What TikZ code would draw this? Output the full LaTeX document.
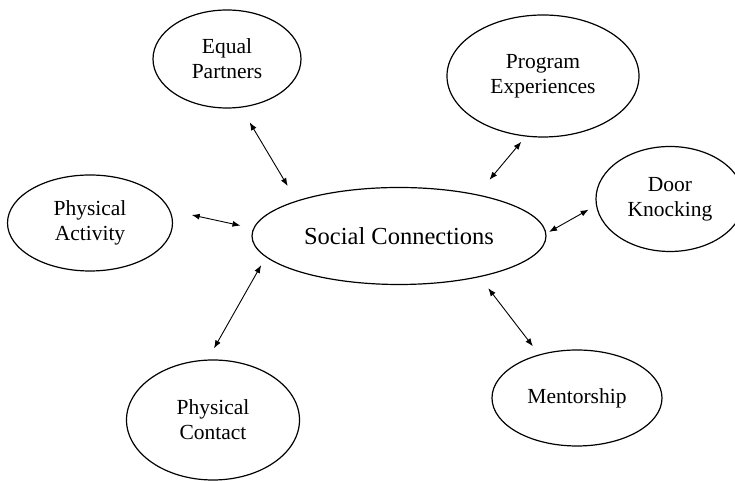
\documentclass[tikz,border=0pt]{standalone}
\usepackage{fontspec}
\setmainfont{Liberation Serif}
\usetikzlibrary{shapes.geometric}
\usetikzlibrary{arrows.meta}
\tikzset{every node/.style={align=center},
         topic/.style={ % the surrounding ellipses
           draw, ellipse, inner sep=0pt, line width=0.6pt,
           font=\fontsize{10.75}{12.5}\selectfont},
         hub/.style={   % the one in the middle
           topic, font=\fontsize{12.25}{14}\selectfont},
         every edge/.style={ % double headed links
           draw, <->,
           line width=0.45pt}}

\begin{document}
\begin{tikzpicture}[x=0.5pt, y=0.5pt, >={Latex[length=4pt,width=3pt]}]
  \clip (0,0) rectangle (735,481);

  \node [hub, minimum width=147pt, minimum height=48.5pt] (sc) at (399,245) {Social Connections};

  \node [topic, minimum width=74pt, minimum height=49pt] (ep) at (227,422) {Equal\\ Partners};
  \node [topic, minimum width=96pt, minimum height=61pt] (pe) at (543,405) {Program\\ Experiences};
  \node [topic, minimum width=74pt, minimum height=52.5pt] (dk) at (670,282) {Door\\ Knocking};
  \node [topic, minimum width=82.5pt, minimum height=48pt] (pa) at (90,258) {Physical\\ Activity};
  \node [topic, minimum width=86.5pt, minimum height=60pt] (pc) at (213,61) {Physical\\ Contact};
  \node [topic, minimum width=85pt, minimum height=48pt] (me) at (577,83) {Mentorship};

  % links, kept a little off the borders
  \draw (ep.-74.5) edge [shorten <=8.5pt, shorten >=8.5pt] (sc.161.6);
  \draw (sc.28.9) edge [shorten <=9.5pt, shorten >=3.35pt] (pe.-106.4);
  \draw (sc.1.8) edge [shorten <=1.5pt, shorten >=4.2pt] (dk.185);
  \draw (pa.9.1) edge [shorten <=11pt, shorten >=6.5pt] (sc.177.2);
  \draw (sc.189) edge [shorten <=4.6pt, shorten >=6.4pt] (pc.95.1);
  \draw (sc.-27.7) edge [shorten <=7pt, shorten >=5.1pt] (me.131.2);

\end{tikzpicture}
\end{document}
